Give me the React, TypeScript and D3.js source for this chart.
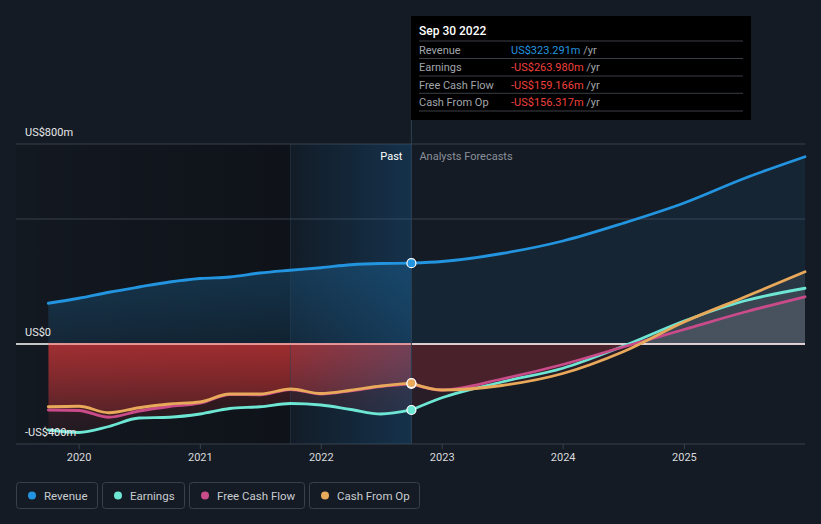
import React from "react";
import * as d3 from "d3";

const pastDates = ["2019-09-30","2019-12-31","2020-03-31","2020-06-30","2020-09-30","2020-12-31","2021-03-31","2021-06-30","2021-09-30","2021-12-31","2022-03-31","2022-06-30","2022-09-30"];
const forecastDates = ["2022-09-30","2022-12-31","2023-06-30","2023-12-31","2024-06-30","2024-12-31","2025-06-30","2025-12-31"];

const revenuePast = [163,183,207,228,248,262,268,284,295,305,317,322,323.291];
const revenueForecast = [323.291,330,362,412,483,564,662,749];
const earningsPast = [-344,-354,-330,-296,-293,-280,-258,-251,-238,-244,-262,-280,-263.98];
const earningsForecast = [-263.98,-215,-152,-97,-9,92,172,223];
const fcfPast = [-264,-266,-293,-268,-250,-237,-202,-203,-182,-200,-187,-170,-159.166];
const fcfForecast = [-159.166,-184,-140,-82,-12,58,127,189];
const cfoPast = [-251,-249,-275,-255,-240,-232,-200,-200,-180,-198,-185,-168,-156.317];
const cfoForecast = [-156.317,-184,-166,-118,-31,88,187,289];

const yTicks = [800, 0, -400];
const yTickLabels = ["US$800m", "US$0", "-US$400m"];
const gridValues = [800, 500];
const xTickYears = [2020, 2021, 2022, 2023, 2024, 2025];

const seriesNames = ["Revenue", "Earnings", "Free Cash Flow", "Cash From Op"];
const seriesColors = ["#2394df", "#6ee6d4", "#c94b8a", "#e8a95a"];

const tooltipTitle = "Sep 30 2022";
const tooltipValues = ["US$323.291m", "-US$263.980m", "-US$159.166m", "-US$156.317m"];

const FONT = "Roboto, 'Noto Sans', Arial, sans-serif";

type Pt = { d: Date; v: number };
const mk = (dates: string[], vals: number[]): Pt[] => dates.map((s, i) => ({ d: new Date(s + "T00:00:00"), v: vals[i] }));

export default function App() {
  const W = 821, H = 524;
  const x = d3.scaleTime()
    .domain([new Date("2019-09-30T00:00:00"), new Date("2025-12-31T00:00:00")])
    .range([48.3, 805]);
  const y = d3.scaleLinear().domain([-400, 800]).range([444, 144]);
  const left = 16, right = 805, top = 144, bottom = 444;
  const xNow = x(new Date("2022-09-30T00:00:00"));
  const xBand = x(new Date("2021-09-30T00:00:00"));
  const xStart = x(new Date("2019-09-30T00:00:00"));
  const y0 = y(0);

  const past = [mk(pastDates, revenuePast), mk(pastDates, earningsPast), mk(pastDates, fcfPast), mk(pastDates, cfoPast)];
  const fc = [mk(forecastDates, revenueForecast), mk(forecastDates, earningsForecast), mk(forecastDates, fcfForecast), mk(forecastDates, cfoForecast)];

  const line = d3.line<Pt>().x(p => x(p.d)).y(p => y(p.v)).curve(d3.curveMonotoneX);
  const area = d3.area<Pt>().x(p => x(p.d)).y0(y0).y1(p => y(p.v)).curve(d3.curveMonotoneX);

  const legendBoxes = [
    { x: 16, w: 81 },
    { x: 102, w: 82 },
    { x: 189, w: 115 },
    { x: 309, w: 110 },
  ];

  return (
    <svg width={W} height={H} style={{ position: "absolute", left: 0, top: 0, background: "#151b24" }} fontFamily={FONT}>
      <defs>
        <clipPath id="cPastNeg"><rect x={xStart} y={y0} width={xNow - xStart} height={bottom - y0} /></clipPath>
        <clipPath id="cFcNeg"><rect x={xNow} y={y0} width={right - xNow} height={bottom - y0} /></clipPath>
        <clipPath id="cFcPos"><rect x={xNow} y={top - 20} width={right - xNow} height={y0 - top + 20} /></clipPath>
        <linearGradient id="gPastDark" x1="0" x2="1" y1="0" y2="0">
          <stop offset="0" stopColor="#000" stopOpacity="0.08" />
          <stop offset="1" stopColor="#000" stopOpacity="0.32" />
        </linearGradient>
        <linearGradient id="gBand" x1="0" x2="1" y1="0" y2="0">
          <stop offset="0" stopColor="#1a6aa8" stopOpacity="0.06" />
          <stop offset="1" stopColor="#1a6aa8" stopOpacity="0.32" />
        </linearGradient>
        <linearGradient id="gRevPast" gradientUnits="userSpaceOnUse" x1="0" x2="0" y1={y(330)} y2={y0}>
          <stop offset="0" stopColor="#2394df" stopOpacity="0.26" />
          <stop offset="1" stopColor="#2394df" stopOpacity="0.12" />
        </linearGradient>
        <linearGradient id="gRed" gradientUnits="userSpaceOnUse" x1="0" x2="0" y1={y0} y2={bottom}>
          <stop offset="0" stopColor="#e83a3a" stopOpacity="0.3" />
          <stop offset="1" stopColor="#e83a3a" stopOpacity="0.04" />
        </linearGradient>
      </defs>

      <rect x={0} y={0} width={W} height={H} fill="#151b24" />
      {/* past background */}
      <rect x={left} y={top} width={xBand - left} height={bottom - top} fill="url(#gPastDark)" />
      <rect x={xBand} y={top} width={xNow - xBand} height={bottom - top} fill="#000" opacity={0.12} />

      {/* grid */}
      {gridValues.map(v => (
        <line key={v} x1={left} x2={right} y1={y(v)} y2={y(v)} stroke="#39404a" strokeWidth={1} />
      ))}
      <line x1={left} x2={right} y1={bottom} y2={bottom} stroke="#39404a" strokeWidth={1} />

      {/* revenue areas */}
      <path d={area(past[0]) || ""} fill="url(#gRevPast)" />
      <path d={area(fc[0]) || ""} fill="#2394df" fillOpacity={0.09} />

      {/* other series areas */}
      {[1, 2, 3].map(i => (
        <g key={i}>
          <path d={area(past[i]) || ""} fill="url(#gRed)" clipPath="url(#cPastNeg)" />
          <path d={area(fc[i]) || ""} fill="#b03040" fillOpacity={0.13} clipPath="url(#cFcNeg)" />
          <path d={area(fc[i]) || ""} fill="#a0a0a8" fillOpacity={0.14} clipPath="url(#cFcPos)" />
        </g>
      ))}

      {/* highlight band */}
      <rect x={xBand} y={top} width={xNow - xBand} height={bottom - top} fill="url(#gBand)" />
      <line x1={xBand} x2={xBand} y1={top} y2={bottom} stroke="#2a4258" strokeOpacity={0.5} />

      {/* zero line */}
      <line x1={left} x2={right} y1={y0} y2={y0} stroke="#ffffff" strokeWidth={1.3} />
      <line x1={xStart} x2={xNow} y1={y0} y2={y0} stroke="#f07070" strokeWidth={1.3} strokeOpacity={0.8} />
      <line x1={xNow} x2={right} y1={y0} y2={y0} stroke="#ffd8d8" strokeWidth={1.3} strokeOpacity={0.5} />

      {/* cursor line */}
      <line x1={xNow} x2={xNow} y1={16} y2={bottom} stroke="#2c4054" strokeWidth={1} />

      {/* lines */}
      {[1, 2, 3, 0].map(i => (
        <g key={i}>
          <path d={line(past[i]) || ""} fill="none" stroke={seriesColors[i]} strokeWidth={2.8} strokeLinecap="round" />
          <path d={line(fc[i]) || ""} fill="none" stroke={seriesColors[i]} strokeWidth={2.8} strokeLinecap="round" />
        </g>
      ))}

      {/* dots */}
      {[2, 3, 1, 0].map(i => (
        <circle key={i} cx={xNow} cy={y(past[i][past[i].length - 1].v)} r={4.5} fill={seriesColors[i]} stroke="#ffffff" strokeWidth={1.2} />
      ))}

      {/* y labels */}
      {yTicks.map((v, i) => (
        <text key={v} x={25} y={y(v) - 8} fontSize={11} fill="#e6e8ea">{yTickLabels[i]}</text>
      ))}

      {/* x ticks */}
      {xTickYears.map(yr => {
        const xx = x(new Date(`${yr}-01-01T00:00:00`));
        return (
          <g key={yr}>
            <line x1={xx} x2={xx} y1={bottom} y2={bottom + 5} stroke="#39404a" />
            <text x={xx} y={461} fontSize={11} fill="#d8dadd" textAnchor="middle">{yr}</text>
          </g>
        );
      })}

      {/* past / forecast labels */}
      <text x={xNow - 9} y={160} fontSize={11} fill="#ffffff" textAnchor="end">Past</text>
      <text x={xNow + 8} y={160} fontSize={11} fill="#8a9099">Analysts Forecasts</text>

      {/* tooltip */}
      <rect x={411} y={16} width={340} height={104} fill="#000000" />
      <text x={419} y={35} fontSize={12} fontWeight={500} fill="#ffffff">{tooltipTitle}</text>
      {[41, 58.5, 76, 93.3, 111].map((ly, i) => (
        <line key={i} x1={419} x2={743} y1={ly} y2={ly} stroke="#3a3f45" strokeWidth={1} />
      ))}
      {seriesNames.map((n, i) => {
        const cy = 49.5 + i * 17.5;
        return (
          <g key={n}>
            <text x={419} y={cy + 4} fontSize={11} fill="#a0a5ab">{n}</text>
            <text x={511} y={cy + 4} fontSize={11} fill={i === 0 ? "#2394df" : "#f0403c"}>
              {tooltipValues[i]}<tspan fill="#a0a5ab"> /yr</tspan>
            </text>
          </g>
        );
      })}

      {/* legend */}
      {seriesNames.map((n, i) => {
        const b = legendBoxes[i];
        return (
          <g key={n}>
            <rect x={b.x + 0.5} y={482.5} width={b.w} height={26} rx={3} fill="none" stroke="#3a4049" />
            <circle cx={b.x + 16} cy={495.5} r={4} fill={seriesColors[i]} />
            <text x={b.x + 28} y={499.5} fontSize={11.5} fill="#c8ccd0">{n}</text>
          </g>
        );
      })}
    </svg>
  );
}
